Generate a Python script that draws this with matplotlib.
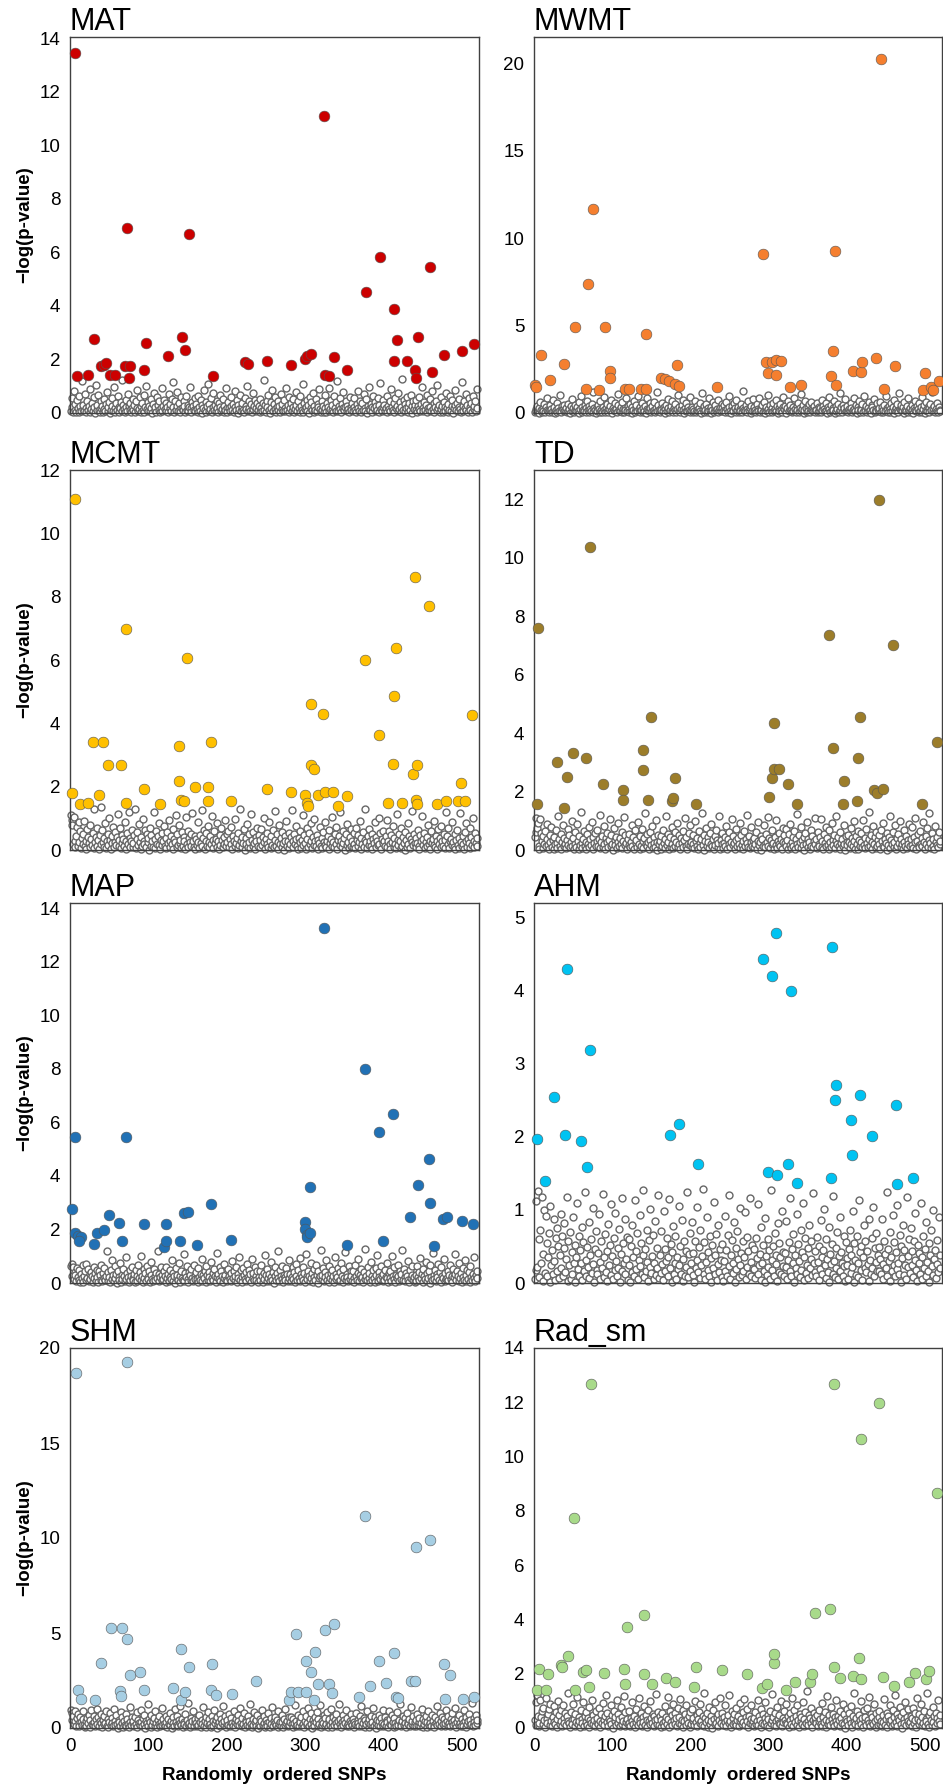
import matplotlib.pyplot as plt
import numpy as np

plt.rcParams['font.family'] = ['Liberation Sans', 'DejaVu Sans']

# --- significant SNPs (index, -log p) for each climate variable ---
mat_x = [7, 9, 23, 31, 40, 43, 46, 51, 57, 70, 76, 73, 75, 95, 97, 125, 143, 147, 152, 183, 223, 227, 252,
         282, 300, 303, 307, 324, 326, 331, 337, 354, 378, 396, 414, 417, 414, 430, 440, 442, 444, 460, 462,
         477, 500, 516]
mat_y = [13.44, 1.37, 1.43, 2.78, 1.75, 1.81, 1.87, 1.43, 1.43, 1.75, 1.75, 6.93, 1.31, 1.6, 2.6, 2.12, 2.83,
         2.37, 6.7, 1.37, 1.91, 1.83, 1.96, 1.78, 2.02, 2.12, 2.21, 11.08, 1.43, 1.37, 2.08, 1.6, 4.53, 5.83,
         3.89, 2.71, 1.96, 1.96, 1.62, 1.31, 2.83, 5.47, 1.53, 2.18, 2.31, 2.56]

mwmt_x = [1, 3, 9, 21, 39, 53, 67, 69, 75, 83, 91, 97, 97, 117, 122, 137, 143, 143, 163, 167, 173, 181, 185,
          183, 234, 293, 297, 300, 304, 310, 310, 316, 328, 342, 380, 383, 385, 386, 408, 419, 420, 438, 444,
          448, 462, 500, 498, 508, 510, 518]
mwmt_y = [1.62, 1.46, 3.33, 1.9, 2.79, 4.94, 1.37, 7.36, 11.65, 1.29, 4.94, 2.43, 2.0, 1.37, 1.37, 1.37, 1.37,
          4.5, 2.0, 1.94, 1.84, 1.65, 1.56, 2.72, 1.46, 9.07, 2.89, 2.28, 2.89, 3.04, 2.15, 2.98, 1.46, 1.62,
          2.09, 3.52, 9.24, 1.62, 2.38, 2.34, 2.89, 3.14, 20.23, 1.37, 2.7, 2.28, 1.29, 1.46, 1.33, 1.84]

mcmt_x = [3, 6, 13, 23, 29, 37, 42, 49, 65, 71, 71, 94, 115, 139, 139, 142, 146, 149, 160, 176, 176, 180,
          206, 251, 282, 300, 302, 304, 307, 307, 312, 316, 323, 326, 336, 342, 354, 376, 394, 406, 412, 414,
          416, 424, 438, 440, 442, 443, 443, 458, 468, 480, 495, 499, 504, 513]
mcmt_y = [1.79, 11.1, 1.46, 1.49, 3.42, 1.74, 3.42, 2.69, 2.69, 6.99, 1.49, 1.93, 1.46, 3.28, 2.18, 1.58, 1.54,
          6.05, 1.98, 1.98, 1.54, 3.42, 1.54, 1.93, 1.83, 1.74, 1.49, 1.38, 4.61, 2.69, 2.57, 1.74, 4.31, 1.83,
          1.83, 1.38, 1.69, 5.99, 3.62, 1.49, 2.72, 4.86, 6.39, 1.49, 2.39, 8.63, 1.58, 2.69, 1.46, 7.69, 1.46,
          1.54, 1.54, 2.13, 1.54, 4.26]

td_x = [5, 4, 29, 38, 42, 50, 66, 72, 88, 114, 114, 140, 140, 146, 150, 177, 178, 180, 207, 301, 304, 307,
        307, 314, 325, 337, 377, 383, 397, 395, 413, 415, 417, 435, 439, 441, 446, 459, 497, 516]
td_y = [7.6, 1.56, 3.0, 1.44, 2.51, 3.32, 3.16, 10.38, 2.25, 2.04, 1.71, 3.42, 2.73, 1.71, 4.55, 1.67, 1.77,
        2.46, 1.56, 1.82, 2.46, 4.33, 2.78, 2.78, 2.25, 1.56, 7.34, 3.48, 2.35, 1.56, 1.67, 3.16, 4.55, 2.04,
        1.94, 11.99, 2.09, 7.01, 1.56, 3.7]

map_x = [3, 6, 7, 10, 14, 12, 30, 34, 43, 50, 62, 66, 72, 94, 120, 122, 122, 140, 146, 150, 162, 180, 206,
         300, 300, 302, 302, 306, 306, 324, 354, 376, 394, 400, 412, 434, 444, 458, 460, 464, 476, 481, 500,
         514]
map_y = [2.78, 5.46, 1.85, 1.76, 1.72, 1.56, 1.47, 1.88, 1.97, 2.54, 2.26, 1.56, 5.46, 2.19, 1.35, 1.56, 2.19,
         1.56, 2.62, 2.67, 1.43, 2.94, 1.6, 2.28, 2.03, 1.78, 1.72, 1.85, 3.59, 13.28, 1.43, 7.99, 5.65, 1.56,
         6.3, 2.48, 3.65, 4.65, 3.0, 1.37, 2.38, 2.48, 2.31, 2.19]

ahm_x = [4, 14, 26, 40, 42, 60, 68, 72, 174, 186, 210, 293, 299, 304, 310, 311, 325, 329, 337, 380, 381, 385,
         387, 405, 407, 417, 433, 463, 465, 485]
ahm_y = [1.97, 1.4, 2.55, 2.03, 4.3, 1.95, 1.59, 3.19, 2.03, 2.18, 1.63, 4.43, 1.52, 4.2, 4.79, 1.48, 1.63,
         4.0, 1.37, 1.44, 4.6, 2.5, 2.71, 2.23, 1.75, 2.57, 2.01, 2.44, 1.35, 1.44]

shm_x = [8, 10, 14, 32, 40, 52, 64, 65, 67, 73, 73, 77, 89, 94, 132, 142, 142, 147, 152, 181, 180, 186, 207,
         237, 279, 282, 289, 291, 301, 301, 307, 311, 313, 317, 325, 331, 335, 337, 369, 377, 383, 395, 403,
         413, 416, 418, 435, 440, 441, 459, 477, 479, 485, 501, 515]
shm_y = [18.69, 1.98, 1.54, 1.49, 3.44, 5.26, 1.95, 1.68, 5.26, 4.68, 19.25, 2.77, 2.94, 1.98, 2.12, 4.17,
         1.49, 1.89, 3.21, 3.38, 1.98, 1.72, 1.81, 2.45, 1.49, 1.89, 4.93, 1.89, 3.51, 1.89, 2.94, 1.49, 4.0,
         2.3, 5.17, 2.3, 1.86, 5.49, 1.63, 11.18, 2.19, 3.51, 2.37, 3.94, 1.63, 1.58, 2.45, 2.45, 9.52, 9.87,
         3.35, 1.51, 2.77, 1.51, 1.63]

rad_x = [4, 6, 15, 18, 35, 36, 43, 51, 52, 63, 67, 70, 73, 89, 115, 117, 119, 141, 141, 151, 169, 181, 205,
         207, 241, 273, 292, 298, 307, 307, 322, 334, 353, 356, 360, 379, 384, 384, 391, 408, 416, 418, 418,
         442, 447, 461, 480, 488, 501, 506, 516]
rad_y = [1.4, 2.16, 1.4, 1.98, 2.32, 2.26, 2.66, 7.74, 1.4, 2.05, 2.14, 1.52, 12.67, 2.04, 2.16, 1.62, 3.71,
         4.18, 1.98, 1.62, 1.85, 1.68, 1.5, 2.26, 2.14, 1.98, 1.46, 1.62, 2.38, 2.73, 1.4, 1.71, 1.68, 1.98,
         4.24, 4.4, 12.67, 2.26, 1.85, 1.93, 2.57, 10.64, 1.8, 11.96, 1.87, 1.56, 1.68, 2.04, 1.8, 2.1, 8.66]

# --- non-significant SNPs, -log p in hundredths, in SNP order ---
mat_grey = [
    8, 55, 21, 3, 84, 12, 35, 2, 47, 17, 5, 62, 26, 9, 120, 14, 31, 6, 72, 19, 2, 43, 11, 25, 90, 4, 16, 38, 7, 58, 23, 1, 105, 13, 29, 66, 10, 3, 44, 18,
    27, 4, 51, 15, 9, 33, 78, 6, 22, 40, 1, 13, 57, 28, 8, 96, 19, 3, 36, 11, 64, 24, 5, 17, 42, 9, 125, 30, 14, 2, 49, 21, 7, 70, 26, 12, 38, 4, 18, 53,
    10, 31, 2, 46, 20, 85, 7, 15, 59, 25, 3, 37, 12, 68, 4, 23, 100, 16, 41, 6, 28, 9, 54, 18, 1, 34, 76, 13, 22, 5, 61, 29, 11, 44, 3, 19, 92, 8, 27, 48,
    14, 6, 39, 24, 2, 71, 17, 33, 9, 52, 115, 21, 5, 43, 12, 26, 80, 7, 36, 15, 3, 58, 20, 10, 46, 28, 4, 65, 13, 31, 8, 22, 98, 18, 2, 41, 27, 11, 55, 6,
    35, 16, 4, 63, 23, 9, 47, 1, 30, 19, 87, 12, 5, 40, 25, 110, 8, 33, 14, 56, 3, 21, 74, 10, 29, 6, 44, 17, 2, 38, 24, 67, 9, 15, 51, 4, 27, 12, 93, 20,
    3, 42, 18, 7, 60, 26, 13, 35, 5, 82, 22, 10, 48, 1, 31, 16, 69, 8, 24, 39, 11, 4, 57, 28, 15, 102, 6, 20, 45, 9, 33, 2, 75, 14, 27, 50, 7, 18, 37, 12,
    25, 5, 53, 17, 8, 36, 123, 13, 29, 3, 46, 21, 66, 10, 1, 40, 19, 86, 7, 32, 14, 58, 4, 23, 11, 44, 27, 2, 70, 16, 35, 9, 49, 20, 6, 95, 13, 30, 3, 61,
    17, 38, 7, 24, 54, 2, 14, 79, 31, 9, 43, 19, 5, 65, 26, 11, 108, 3, 36, 15, 22, 48, 8, 29, 1, 59, 18, 40, 12, 73, 4, 27, 10, 52, 6, 33, 21, 88, 14, 2,
    44, 11, 28, 5, 67, 19, 3, 37, 24, 94, 8, 16, 50, 13, 30, 2, 62, 20, 9, 41, 118, 6, 25, 14, 55, 3, 34, 18, 77, 10, 22, 45, 7, 28, 15, 4, 60, 23, 11, 39,
    6, 21, 57, 13, 2, 32, 83, 17, 9, 45, 26, 4, 39, 12, 71, 20, 7, 51, 1, 28, 15, 99, 10, 35, 22, 5, 63, 18, 42, 8, 26, 13, 56, 3, 30, 112, 16, 7, 47, 24,
    31, 9, 18, 64, 4, 27, 14, 43, 7, 89, 22, 11, 36, 2, 55, 19, 28, 6, 74, 15, 40, 3, 24, 128, 12, 49, 8, 33, 17, 61, 5, 21, 38, 10, 68, 25, 1, 46, 14, 29,
    12, 47, 3, 26, 15, 58, 8, 35, 97, 20, 6, 42, 13, 29, 2, 66, 18, 10, 53, 24, 7, 81, 16, 37, 4, 23, 45, 11, 104, 19, 30, 5, 59, 14, 27, 2, 41, 22, 8, 76,
    20, 4, 33, 13, 62, 9, 25, 48, 1, 17, 85, 29, 11, 39, 6, 22, 54, 15, 3, 116, 27, 8, 44, 18, 70, 12, 31, 5, 57, 21, 10, 36, 2, 65, 16, 26, 43, 7, 91, 19]

mwmt_grey = [
    5, 22, 9, 41, 14, 2, 31, 63, 18, 7, 27, 12, 50, 3, 36, 20, 88, 10, 4, 45, 16, 25, 6, 72, 13, 33, 1, 19, 57, 8, 28, 11, 105, 15, 3, 39, 24, 9, 48, 17,
    30, 6, 14, 54, 21, 2, 38, 11, 79, 26, 4, 17, 44, 9, 32, 13, 61, 1, 23, 96, 7, 35, 19, 10, 47, 28, 3, 68, 15, 40, 5, 24, 12, 53, 8, 118, 29, 18, 2, 37,
    11, 43, 25, 4, 66, 16, 8, 34, 20, 92, 3, 27, 13, 50, 6, 21, 39, 14, 75, 2, 30, 17, 58, 9, 24, 5, 45, 110, 19, 12, 36, 7, 62, 22, 3, 28, 15, 83, 10, 41,
    23, 8, 52, 13, 1, 33, 18, 70, 5, 26, 46, 11, 98, 21, 4, 37, 15, 59, 7, 29, 12, 42, 2, 24, 86, 16, 9, 55, 27, 3, 38, 14, 64, 20, 6, 31, 122, 11, 48, 18,
    4, 29, 15, 60, 9, 35, 22, 2, 47, 13, 81, 26, 6, 19, 40, 10, 67, 3, 31, 16, 53, 8, 24, 103, 12, 37, 5, 21, 44, 18, 76, 1, 28, 14, 57, 9, 33, 20, 7, 90,
    16, 36, 3, 25, 12, 69, 6, 42, 19, 9, 30, 56, 14, 1, 114, 23, 7, 38, 17, 49, 4, 27, 11, 85, 20, 2, 34, 15, 63, 8, 26, 45, 10, 22, 5, 73, 18, 31, 13, 51,
    27, 10, 45, 18, 4, 61, 23, 8, 34, 96, 14, 2, 41, 20, 11, 57, 29, 5, 72, 16, 37, 7, 25, 13, 50, 3, 31, 126, 19, 9, 44, 22, 6, 66, 15, 28, 1, 39, 12, 80,
    9, 33, 19, 5, 54, 24, 12, 88, 3, 27, 15, 43, 8, 63, 20, 1, 36, 11, 101, 25, 6, 48, 17, 30, 4, 59, 14, 22, 77, 10, 39, 2, 26, 13, 53, 18, 7, 34, 94, 21,
    38, 14, 2, 28, 67, 9, 21, 47, 16, 5, 33, 12, 84, 24, 3, 40, 19, 58, 7, 30, 108, 11, 25, 45, 1, 17, 70, 29, 8, 36, 13, 51, 4, 23, 62, 15, 10, 42, 20, 6,
    18, 55, 7, 32, 11, 26, 3, 74, 16, 40, 22, 9, 60, 14, 1, 35, 91, 25, 5, 47, 12, 29, 18, 66, 2, 38, 10, 24, 53, 7, 116, 20, 33, 4, 43, 15, 27, 79, 9, 14,
    42, 3, 21, 12, 58, 30, 6, 17, 87, 24, 10, 44, 2, 35, 15, 69, 8, 27, 19, 51, 4, 99, 23, 13, 39, 6, 28, 62, 11, 20, 1, 46, 32, 16, 81, 5, 25, 9, 56, 22,
    13, 26, 65, 8, 37, 4, 19, 48, 11, 97, 29, 16, 3, 41, 22, 7, 59, 14, 33, 1, 72, 18, 27, 10, 50, 6, 112, 24, 15, 43, 9, 34, 2, 63, 20, 12, 38, 5, 84, 17,
    31, 7, 46, 20, 2, 28, 71, 15, 10, 39, 24, 4, 57, 13, 33, 89, 8, 21, 47, 1, 18, 64, 11, 36, 26, 5, 52, 16, 120, 9, 29, 42, 3, 23, 14, 60, 7, 35, 19, 11]

mcmt_grey = [
    110, 95, 78, 20, 105, 30, 8, 45, 72, 12, 88, 25, 60, 5, 38, 18, 52, 92, 14, 28, 3, 66, 40, 22, 10, 80, 34, 16, 55, 7, 130, 26, 42, 13, 70, 32, 4, 48, 19, 135,
    62, 24, 11, 37, 85, 6, 29, 50, 17, 100, 33, 2, 44, 21, 74, 9, 58, 26, 15, 40, 115, 12, 31, 68, 5, 47, 23, 36, 13, 90, 27, 3, 54, 18, 120, 8, 39, 28, 64, 10,
    22, 46, 130, 7, 34, 57, 16, 83, 25, 4, 41, 12, 98, 30, 19, 63, 9, 52, 24, 38, 1, 71, 14, 47, 28, 11, 120, 35, 6, 59, 20, 43, 15, 86, 3, 32, 53, 17, 27, 75,
    13, 39, 5, 58, 23, 94, 10, 30, 45, 18, 67, 2, 36, 26, 112, 9, 49, 15, 80, 21, 33, 7, 56, 12, 42, 27, 4, 105, 19, 61, 8, 37, 24, 50, 14, 118, 29, 11, 44, 3,
    35, 17, 88, 26, 6, 48, 21, 125, 12, 39, 64, 3, 29, 55, 14, 77, 24, 9, 43, 18, 107, 31, 5, 59, 22, 36, 11, 84, 27, 2, 46, 16, 68, 32, 8, 40, 20, 95, 13, 51,
    25, 60, 10, 34, 19, 73, 4, 45, 28, 13, 99, 22, 37, 7, 54, 16, 130, 30, 9, 42, 23, 66, 1, 38, 18, 81, 11, 49, 26, 6, 115, 33, 14, 57, 21, 3, 41, 27, 70, 12,
    47, 8, 31, 65, 15, 40, 24, 102, 2, 36, 20, 53, 11, 87, 28, 5, 44, 17, 62, 9, 123, 32, 14, 50, 26, 4, 79, 19, 38, 10, 58, 23, 1, 43, 30, 92, 13, 27, 55, 6,
    18, 42, 126, 28, 9, 51, 20, 34, 76, 13, 3, 39, 25, 60, 7, 31, 110, 15, 46, 22, 2, 68, 35, 11, 54, 19, 84, 27, 6, 40, 16, 97, 30, 12, 48, 4, 33, 21, 72, 14,
    37, 5, 57, 24, 16, 89, 10, 29, 43, 2, 64, 21, 35, 12, 104, 26, 8, 50, 18, 74, 4, 32, 45, 15, 119, 28, 9, 61, 22, 38, 1, 52, 17, 82, 25, 6, 41, 13, 67, 30,
    11, 53, 20, 7, 70, 33, 14, 46, 26, 93, 3, 39, 18, 58, 10, 31, 128, 24, 5, 44, 16, 66, 29, 12, 49, 2, 36, 21, 87, 8, 42, 27, 15, 101, 19, 55, 4, 34, 23, 60,
    28, 14, 44, 96, 9, 30, 61, 18, 3, 48, 24, 75, 11, 37, 20, 5, 113, 33, 16, 52, 27, 7, 69, 13, 40, 23, 1, 57, 31, 10, 86, 19, 45, 6, 35, 25, 124, 15, 50, 21,
    8, 38, 23, 63, 13, 2, 47, 29, 106, 17, 34, 55, 6, 25, 41, 12, 80, 19, 30, 4, 59, 22, 36, 15, 93, 9, 45, 27, 3, 66, 18, 39, 11, 77, 28, 14, 52, 5, 32, 120,
    43, 19, 71, 6, 27, 36, 15, 90, 24, 11, 50, 2, 32, 62, 17, 39, 7, 118, 26, 13, 45, 20, 4, 57, 30, 84, 10, 35, 22, 68, 5, 41, 16, 100, 28, 9, 54, 23, 14, 37]

td_grey = [
    45, 62, 110, 75, 92, 15, 4, 106, 58, 30, 8, 48, 22, 65, 12, 38, 90, 18, 5, 52, 27, 80, 10, 33, 2, 44, 19, 70, 25, 7, 115, 36, 14, 55, 3, 28, 85, 12, 40, 20,
    6, 34, 72, 17, 50, 9, 26, 100, 14, 42, 3, 60, 21, 11, 88, 31, 5, 47, 18, 130, 24, 8, 39, 66, 13, 29, 2, 54, 20, 77, 10, 36, 16, 95, 4, 43, 23, 58, 12, 30,
    68, 15, 38, 7, 121, 26, 48, 11, 82, 19, 3, 41, 28, 59, 9, 33, 105, 14, 52, 22, 1, 74, 35, 17, 46, 6, 27, 93, 12, 40, 20, 63, 8, 31, 112, 16, 50, 24, 4, 37,
    18, 56, 9, 29, 86, 13, 44, 2, 67, 25, 35, 10, 97, 21, 5, 49, 15, 73, 30, 8, 40, 128, 19, 55, 12, 26, 3, 62, 34, 16, 81, 7, 45, 23, 11, 104, 28, 1, 53, 20,
    32, 4, 47, 14, 70, 24, 8, 38, 118, 17, 55, 27, 2, 43, 11, 79, 21, 6, 36, 60, 13, 28, 94, 9, 50, 19, 3, 41, 25, 65, 10, 33, 109, 15, 46, 5, 22, 58, 18, 84,
    27, 11, 51, 20, 6, 99, 31, 15, 42, 3, 64, 23, 9, 37, 125, 18, 53, 1, 30, 74, 14, 45, 26, 7, 57, 21, 88, 12, 39, 4, 48, 16, 69, 33, 10, 24, 115, 2, 35, 19,
    58, 7, 24, 44, 13, 82, 3, 36, 19, 61, 9, 28, 107, 16, 47, 25, 5, 71, 34, 12, 40, 21, 93, 8, 52, 18, 30, 2, 66, 14, 39, 120, 23, 11, 49, 6, 27, 77, 15, 33,
    10, 42, 20, 63, 5, 31, 96, 17, 26, 48, 1, 37, 14, 85, 22, 9, 55, 29, 113, 12, 41, 6, 34, 19, 68, 25, 3, 46, 16, 102, 8, 32, 57, 21, 13, 39, 4, 75, 27, 51,
    24, 73, 12, 35, 2, 54, 18, 90, 8, 29, 45, 15, 64, 5, 38, 122, 20, 11, 50, 27, 7, 80, 33, 16, 43, 1, 59, 22, 97, 10, 36, 26, 4, 68, 14, 47, 9, 31, 110, 19,
    39, 6, 60, 21, 15, 44, 106, 9, 32, 3, 56, 24, 78, 13, 41, 18, 2, 67, 28, 10, 92, 35, 17, 52, 7, 30, 118, 20, 46, 12, 63, 4, 25, 38, 14, 86, 22, 1, 49, 29,
    16, 53, 27, 8, 75, 19, 40, 12, 99, 31, 5, 47, 21, 65, 2, 34, 14, 57, 26, 9, 104, 18, 42, 6, 72, 23, 11, 36, 129, 15, 51, 3, 29, 83, 20, 44, 8, 61, 13, 35,
    50, 22, 4, 69, 30, 14, 93, 10, 39, 25, 1, 58, 17, 46, 116, 7, 33, 20, 62, 11, 28, 84, 5, 41, 15, 55, 24, 100, 9, 37, 19, 2, 70, 27, 13, 48, 6, 35, 21, 88,
    12, 36, 79, 18, 7, 43, 26, 110, 3, 31, 54, 16, 9, 65, 22, 40, 13, 95, 28, 4, 47, 19, 74, 11, 33, 127, 24, 8, 57, 15, 38, 2, 82, 29, 17, 45, 10, 61, 21, 30]

map_grey = [
    62, 70, 25, 58, 15, 40, 30, 8, 55, 22, 12, 48, 5, 35, 18, 66, 3, 28, 45, 10, 70, 20, 52, 7, 33, 14, 42, 26, 4, 60, 17, 38, 9, 50, 21, 2, 44, 30, 13, 68,
    6, 36, 19, 56, 11, 27, 120, 8, 40, 24, 3, 47, 15, 85, 29, 9, 64, 18, 33, 1, 45, 22, 12, 75, 5, 31, 16, 53, 26, 7, 96, 14, 38, 21, 4, 49, 10, 27, 60, 18,
    13, 34, 2, 48, 25, 8, 69, 17, 41, 11, 100, 28, 5, 54, 19, 36, 9, 62, 23, 14, 44, 3, 30, 80, 16, 7, 52, 26, 12, 39, 20, 118, 6, 35, 24, 58, 10, 29, 15, 46,
    27, 4, 60, 18, 33, 9, 49, 22, 14, 86, 6, 38, 25, 1, 55, 17, 31, 10, 73, 28, 5, 45, 20, 12, 107, 8, 37, 24, 63, 15, 3, 42, 29, 11, 51, 19, 7, 68, 26, 14,
    40, 16, 5, 57, 24, 12, 34, 90, 8, 29, 19, 46, 2, 65, 31, 13, 41, 22, 6, 79, 17, 36, 10, 52, 27, 4, 113, 21, 33, 14, 59, 9, 44, 25, 3, 70, 18, 30, 11, 48,
    9, 53, 28, 15, 38, 6, 82, 20, 43, 12, 27, 60, 4, 35, 18, 98, 11, 47, 24, 2, 56, 30, 16, 40, 7, 71, 22, 14, 50, 32, 5, 88, 19, 39, 10, 61, 26, 13, 44, 3,
    21, 46, 11, 67, 25, 3, 37, 15, 104, 29, 8, 52, 18, 33, 6, 77, 23, 13, 42, 1, 59, 28, 10, 36, 20, 119, 7, 48, 26, 16, 63, 4, 31, 22, 12, 55, 34, 9, 85, 17,
    35, 8, 24, 58, 14, 42, 2, 70, 27, 12, 49, 19, 95, 6, 32, 21, 61, 10, 39, 4, 110, 25, 15, 45, 28, 8, 76, 17, 36, 5, 53, 23, 11, 66, 30, 1, 43, 18, 27, 124,
    14, 30, 55, 7, 41, 22, 86, 12, 29, 3, 64, 18, 37, 10, 48, 26, 5, 99, 16, 33, 21, 57, 9, 40, 13, 73, 28, 2, 51, 19, 115, 11, 35, 24, 6, 62, 15, 44, 27, 8,
    45, 19, 4, 69, 26, 13, 38, 90, 7, 31, 17, 53, 23, 2, 42, 128, 15, 28, 10, 60, 20, 36, 5, 78, 25, 12, 47, 18, 3, 56, 30, 106, 9, 40, 21, 14, 65, 27, 6, 33,
    11, 50, 24, 17, 74, 5, 36, 20, 44, 9, 101, 28, 14, 58, 3, 31, 18, 67, 25, 8, 43, 16, 35, 122, 11, 52, 22, 6, 39, 27, 83, 13, 4, 47, 19, 30, 62, 10, 24, 2,
    29, 8, 63, 22, 12, 41, 95, 17, 33, 4, 54, 26, 15, 80, 9, 37, 20, 46, 1, 68, 24, 11, 112, 30, 16, 50, 6, 35, 21, 72, 13, 42, 3, 59, 27, 18, 91, 8, 38, 14,
    18, 43, 10, 30, 66, 15, 25, 5, 52, 21, 108, 34, 12, 46, 28, 7, 75, 19, 39, 2, 57, 23, 13, 87, 31, 9, 48, 16, 40, 4, 63, 24, 11, 35, 20, 99, 6, 29, 45, 17]

ahm_grey = [
    5, 112, 18, 22, 126, 60, 8, 72, 28, 118, 3, 40, 100, 14, 92, 55, 9, 35, 68, 2, 105, 25, 45, 12, 88, 30, 4, 62, 17, 75, 50, 7, 38, 95, 20, 65, 10, 48, 82, 15,
    33, 118, 3, 58, 24, 70, 6, 43, 13, 91, 27, 52, 1, 36, 110, 19, 64, 9, 45, 28, 77, 4, 56, 16, 125, 31, 10, 49, 22, 84, 7, 39, 60, 14, 103, 26, 2, 47, 71, 18,
    12, 41, 94, 6, 29, 57, 20, 122, 8, 35, 67, 15, 44, 3, 81, 25, 52, 11, 108, 37, 5, 62, 18, 96, 30, 9, 48, 21, 74, 1, 40, 117, 16, 55, 27, 87, 13, 33, 63, 4,
    60, 24, 2, 50, 15, 79, 35, 10, 114, 44, 19, 68, 6, 31, 93, 23, 55, 12, 39, 127, 8, 46, 17, 73, 29, 3, 59, 22, 101, 14, 37, 66, 5, 27, 85, 11, 48, 20, 120, 7,
    38, 14, 71, 26, 4, 99, 17, 47, 30, 61, 9, 35, 115, 21, 53, 1, 42, 78, 12, 28, 64, 6, 36, 19, 106, 25, 50, 13, 86, 3, 33, 57, 10, 44, 22, 124, 8, 40, 69, 16,
    27, 83, 11, 41, 2, 58, 20, 104, 32, 15, 49, 7, 73, 24, 37, 128, 13, 56, 5, 29, 90, 18, 43, 9, 64, 34, 1, 52, 21, 111, 12, 39, 67, 4, 26, 80, 15, 46, 31, 8,
    54, 3, 30, 92, 17, 45, 10, 66, 23, 121, 6, 38, 59, 14, 27, 84, 2, 48, 19, 71, 33, 8, 102, 25, 41, 11, 57, 16, 36, 97, 5, 63, 22, 44, 13, 116, 29, 9, 52, 20,
    19, 47, 7, 62, 34, 13, 108, 24, 40, 4, 76, 28, 52, 16, 1, 89, 37, 11, 60, 22, 45, 6, 127, 31, 18, 50, 9, 68, 26, 39, 3, 82, 15, 55, 35, 12, 99, 23, 43, 10,
    41, 22, 85, 5, 31, 56, 16, 117, 9, 46, 27, 67, 2, 38, 20, 94, 12, 53, 30, 8, 72, 18, 43, 109, 4, 35, 61, 14, 25, 48, 7, 80, 21, 33, 58, 11, 123, 28, 15, 44,
    10, 63, 29, 4, 51, 19, 86, 36, 12, 45, 101, 24, 7, 60, 33, 15, 77, 2, 40, 26, 54, 13, 119, 30, 8, 48, 20, 70, 5, 37, 91, 17, 43, 28, 10, 65, 23, 3, 56, 34,
    25, 6, 46, 73, 14, 38, 22, 98, 1, 55, 31, 11, 65, 27, 8, 113, 42, 18, 50, 4, 35, 79, 21, 58, 15, 44, 26, 3, 87, 32, 12, 61, 20, 104, 9, 48, 29, 68, 16, 39,
    49, 17, 33, 12, 88, 26, 5, 58, 40, 21, 125, 10, 47, 30, 70, 3, 36, 16, 93, 24, 56, 9, 42, 19, 107, 28, 13, 66, 2, 51, 34, 80, 11, 45, 25, 6, 118, 37, 22, 60,
    14, 75, 24, 44, 8, 57, 31, 96, 18, 3, 52, 27, 41, 13, 110, 35, 6, 64, 21, 47, 10, 83, 29, 16, 55, 1, 39, 72, 23, 11, 100, 33, 45, 7, 59, 26, 15, 90, 38, 20]

shm_grey = [
    95, 80, 40, 65, 20, 88, 35, 10, 52, 75, 25, 8, 60, 30, 15, 45, 90, 18, 5, 38, 12, 55, 28, 70, 3, 42, 95, 22, 14, 62, 33, 8, 48, 100, 20, 58, 11, 35, 26, 74,
    7, 40, 19, 63, 28, 92, 13, 47, 4, 34, 80, 17, 53, 24, 9, 102, 36, 15, 68, 21, 2, 44, 30, 11, 86, 26, 57, 6, 39, 18, 73, 12, 49, 23, 3, 112, 31, 16, 60, 25,
    36, 10, 58, 22, 84, 5, 43, 27, 14, 96, 32, 8, 51, 19, 67, 1, 38, 24, 125, 12, 46, 29, 7, 71, 17, 35, 54, 11, 88, 26, 3, 42, 20, 63, 9, 31, 105, 15, 48, 22,
    13, 65, 30, 6, 45, 21, 79, 16, 37, 2, 56, 25, 11, 98, 33, 18, 62, 8, 41, 28, 115, 14, 50, 4, 34, 23, 76, 10, 44, 19, 130, 27, 6, 55, 15, 38, 87, 12, 29, 47,
    26, 9, 51, 17, 70, 32, 3, 43, 22, 108, 13, 38, 60, 7, 28, 82, 16, 46, 21, 5, 65, 35, 11, 94, 24, 41, 1, 57, 19, 31, 74, 9, 48, 26, 118, 14, 36, 62, 4, 22,
    42, 18, 75, 8, 33, 55, 24, 12, 90, 30, 5, 48, 19, 66, 38, 14, 103, 26, 9, 52, 21, 79, 3, 44, 29, 16, 61, 11, 35, 126, 23, 7, 50, 17, 85, 32, 13, 40, 69, 2,
    20, 47, 11, 35, 97, 16, 28, 64, 6, 41, 24, 13, 78, 31, 3, 53, 20, 110, 9, 37, 27, 58, 15, 43, 4, 88, 22, 34, 12, 67, 29, 6, 46, 18, 99, 25, 39, 10, 56, 14,
    33, 60, 21, 4, 49, 27, 122, 13, 38, 17, 71, 8, 44, 30, 56, 12, 92, 23, 5, 36, 64, 15, 28, 107, 10, 47, 20, 77, 2, 40, 25, 13, 58, 31, 84, 9, 45, 19, 120, 6,
    15, 38, 27, 66, 10, 52, 22, 86, 7, 33, 45, 18, 101, 29, 3, 59, 14, 41, 24, 73, 11, 36, 128, 20, 49, 5, 31, 68, 16, 42, 26, 93, 8, 54, 21, 12, 39, 76, 28, 17,
    50, 6, 32, 20, 81, 14, 44, 28, 9, 62, 37, 115, 12, 25, 54, 3, 40, 19, 89, 30, 7, 47, 22, 65, 16, 34, 104, 11, 58, 27, 2, 43, 18, 70, 35, 13, 51, 24, 97, 8,
    23, 58, 12, 40, 29, 6, 92, 19, 48, 15, 68, 34, 4, 55, 25, 11, 83, 31, 16, 42, 124, 21, 9, 37, 61, 14, 52, 27, 5, 78, 33, 19, 45, 10, 109, 23, 38, 64, 13, 30,
    9, 41, 73, 18, 32, 55, 13, 26, 100, 7, 45, 20, 36, 63, 3, 29, 87, 15, 50, 24, 11, 70, 38, 17, 6, 57, 28, 117, 14, 43, 22, 81, 8, 35, 59, 19, 47, 12, 27, 93,
    37, 16, 62, 24, 8, 49, 30, 80, 14, 40, 21, 106, 5, 33, 55, 18, 71, 26, 10, 46, 28, 12, 95, 38, 3, 60, 20, 35, 76, 15, 43, 23, 130, 9, 51, 30, 17, 66, 25, 41]

rad_grey = [
    30, 95, 10, 120, 45, 8, 20, 105, 40, 62, 15, 75, 28, 5, 110, 35, 18, 50, 70, 12, 90, 25, 6, 42, 80, 22, 14, 58, 33, 3, 100, 48, 16, 65, 27, 9, 85, 38, 20, 55,
    11, 46, 24, 130, 18, 4, 60, 29, 15, 88, 35, 7, 52, 21, 113, 13, 40, 26, 2, 68, 32, 17, 97, 9, 44, 23, 59, 12, 36, 5, 78, 28, 19, 104, 14, 47, 31, 8, 63, 22,
    37, 16, 72, 25, 3, 50, 18, 91, 30, 10, 43, 123, 21, 56, 7, 34, 27, 85, 14, 48, 1, 64, 24, 39, 11, 102, 19, 53, 33, 6, 76, 15, 41, 26, 117, 9, 58, 22, 35, 13,
    20, 61, 8, 38, 27, 94, 14, 45, 4, 69, 23, 33, 12, 109, 29, 17, 55, 6, 40, 21, 82, 10, 48, 31, 2, 66, 25, 13, 99, 37, 19, 52, 7, 44, 28, 127, 16, 35, 60, 11,
    43, 5, 30, 57, 19, 9, 80, 26, 40, 14, 115, 33, 3, 62, 22, 47, 12, 90, 28, 16, 54, 36, 8, 73, 20, 41, 106, 13, 29, 5, 67, 24, 50, 11, 86, 34, 18, 45, 2, 59,
    15, 71, 24, 36, 10, 101, 21, 49, 6, 33, 60, 18, 87, 27, 12, 44, 130, 9, 38, 23, 57, 4, 30, 78, 16, 46, 26, 1, 65, 35, 13, 96, 20, 42, 7, 53, 29, 112, 17, 39,
    54, 12, 41, 22, 84, 7, 31, 48, 17, 120, 26, 3, 63, 37, 14, 50, 19, 75, 10, 28, 43, 6, 92, 24, 35, 15, 58, 21, 108, 11, 39, 27, 69, 4, 46, 18, 33, 83, 13, 25,
    8, 36, 59, 16, 27, 105, 11, 44, 30, 5, 70, 20, 52, 14, 38, 96, 23, 7, 47, 32, 2, 61, 17, 125, 28, 41, 12, 56, 25, 9, 79, 34, 19, 49, 13, 100, 6, 37, 22, 64,
    31, 20, 88, 13, 43, 4, 57, 28, 16, 111, 36, 9, 66, 21, 46, 12, 84, 29, 3, 53, 24, 40, 15, 97, 33, 7, 60, 19, 135, 26, 11, 48, 38, 17, 74, 5, 30, 55, 23, 42,
    18, 49, 6, 67, 25, 35, 14, 93, 9, 41, 22, 58, 2, 31, 119, 16, 47, 27, 10, 76, 34, 19, 52, 6, 39, 24, 103, 13, 44, 28, 63, 8, 36, 20, 87, 15, 50, 1, 33, 70,
    26, 10, 54, 32, 17, 81, 5, 45, 23, 128, 13, 38, 61, 20, 8, 49, 29, 99, 14, 36, 4, 65, 25, 42, 11, 72, 30, 18, 114, 7, 51, 22, 40, 16, 90, 27, 3, 57, 34, 12,
    39, 62, 15, 27, 7, 48, 21, 107, 12, 35, 56, 3, 44, 24, 84, 17, 31, 9, 68, 40, 13, 122, 22, 50, 6, 37, 28, 77, 15, 45, 1, 59, 33, 19, 95, 10, 42, 26, 71, 16,
    23, 46, 9, 37, 73, 18, 28, 56, 4, 110, 32, 14, 51, 25, 89, 11, 40, 20, 64, 7, 34, 26, 130, 15, 47, 3, 58, 30, 12, 79, 21, 43, 8, 54, 36, 17, 102, 27, 13, 48]

names = ['MAT', 'MWMT', 'MCMT', 'TD', 'MAP', 'AHM', 'SHM', 'Rad_sm']
colors = ['#CC0000', '#F57F2F', '#FFC000', '#9C7D2A', '#2171B5', '#00C3F2', '#A6CEE3', '#A8DA8A']
sig_x = [mat_x, mwmt_x, mcmt_x, td_x, map_x, ahm_x, shm_x, rad_x]
sig_y = [mat_y, mwmt_y, mcmt_y, td_y, map_y, ahm_y, shm_y, rad_y]
greys = [mat_grey, mwmt_grey, mcmt_grey, td_grey, map_grey, ahm_grey, shm_grey, rad_grey]
y_top = [14.05, 21.5, 12, 13, 14.2, 5.2, 20, 14]
y_step = [2, 5, 2, 2, 2, 1, 5, 2]

W, H = 943, 1788
fig = plt.figure(figsize=(W / 100, H / 100), dpi=100)

# axes boxes in pixels
cols = [(70, 479), (534, 942)]
rows = [(37, 413), (470, 850), (903, 1283), (1348, 1728)]

for i, name in enumerate(names):
    r, c = divmod(i, 2)
    l, rr = cols[c]
    t, b = rows[r]
    ax = fig.add_axes([l / W, 1 - b / H, (rr - l) / W, (b - t) / H])

    g = np.array(greys[i]) / 100.0
    gx = np.arange(1, len(g) + 1)
    ax.scatter(gx, g, s=25, facecolors='white', edgecolors='#666666', linewidths=1.0, clip_on=False, zorder=2)
    ax.scatter(sig_x[i], sig_y[i], s=60, c=colors[i], edgecolors='#555555', linewidths=0.4, clip_on=False,
               zorder=3)

    ax.set_xlim(0, 522)
    ax.set_ylim(0, y_top[i])
    ax.set_yticks(np.arange(0, y_top[i] + 0.01, y_step[i]))
    ax.tick_params(length=0, labelsize=13.5, pad=7)
    if r == 3:
        ax.set_xticks([0, 100, 200, 300, 400, 500])
        fig.text((l + rr) / 2 / W, 1 - 1775 / H, 'Randomly  ordered SNPs', ha='center', va='center',
                 fontsize=13.5, fontweight='bold')
    else:
        ax.set_xticks([])
    for sp in ax.spines.values():
        sp.set_color('#404040')
        sp.set_linewidth(1.0)
    ax.set_title(name, loc='left', fontsize=22, pad=3)
    if c == 0:
        fig.text(25 / W, 1 - (t + b) / 2 / H, '\u2212log(p-value)', rotation=90, ha='center', va='center',
                 fontsize=13.5, fontweight='bold')

fig.savefig('out.png', dpi=100)
